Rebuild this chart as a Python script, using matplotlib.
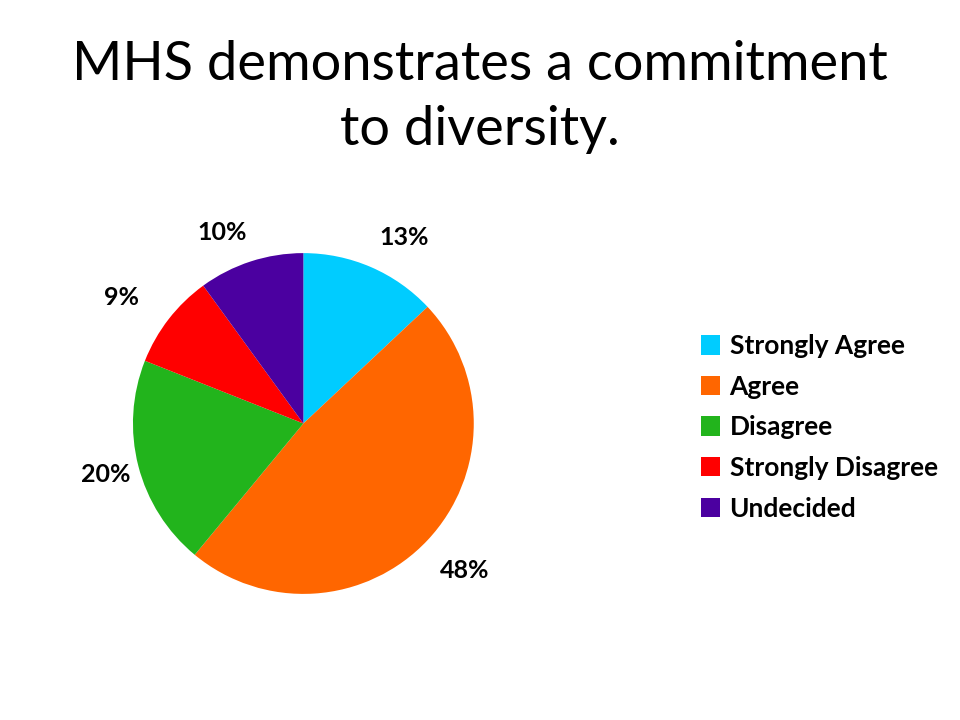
import matplotlib
matplotlib.use("Agg")
import matplotlib.pyplot as plt
from matplotlib.patches import Patch
import numpy as np

categories = ["Strongly Agree", "Agree", "Disagree", "Strongly Disagree", "Undecided"]
values = [13, 48, 20, 9, 10]
colors = ["#00CCFF", "#FF6600", "#22B41C", "#FF0000", "#4B00A0"]
title = "MHS demonstrates a commitment\nto diversity."

# label placement tweaks (radial distance, angular shift in degrees)
label_dist = [1.24, 1.28, 1.20, 1.30, 1.22]
label_shift = [-5, 1, 0, 3, 5]

plt.rcParams['font.family'] = ['Lato', 'DejaVu Sans']

fig = plt.figure(figsize=(9.6, 7.2), dpi=100)
fig.patch.set_facecolor("white")
ax = fig.add_axes([0.1385, 0.175, 0.355, 0.4736])
wedges, texts, autotexts = ax.pie(
    values, colors=colors, startangle=90, counterclock=False,
    autopct=lambda p: f"{p:.0f}%", pctdistance=1.25,
    wedgeprops=dict(linewidth=0),
    textprops=dict(fontsize=18, fontweight='bold', color='black'))
for w, t, d, s in zip(wedges, autotexts, label_dist, label_shift):
    ang = np.deg2rad((w.theta1 + w.theta2) / 2 + s)
    t.set_position((d * np.cos(ang), d * np.sin(ang)))
ax.set_xlim(-1, 1)
ax.set_ylim(-1, 1)
ax.set_aspect('equal')

fig.text(0.5, 0.945, title, ha='center', va='top', fontsize=39, linespacing=1.4)

handles = [Patch(facecolor=c, edgecolor='none') for c in colors]
fig.legend(handles, categories, loc='upper left', bbox_to_anchor=(0.705, 0.569),
           frameon=False, prop=dict(size=19, weight='bold'),
           handlelength=0.75, handleheight=0.75, handletextpad=0.35, labelspacing=0.63)

fig.savefig("out.png", dpi=100)
